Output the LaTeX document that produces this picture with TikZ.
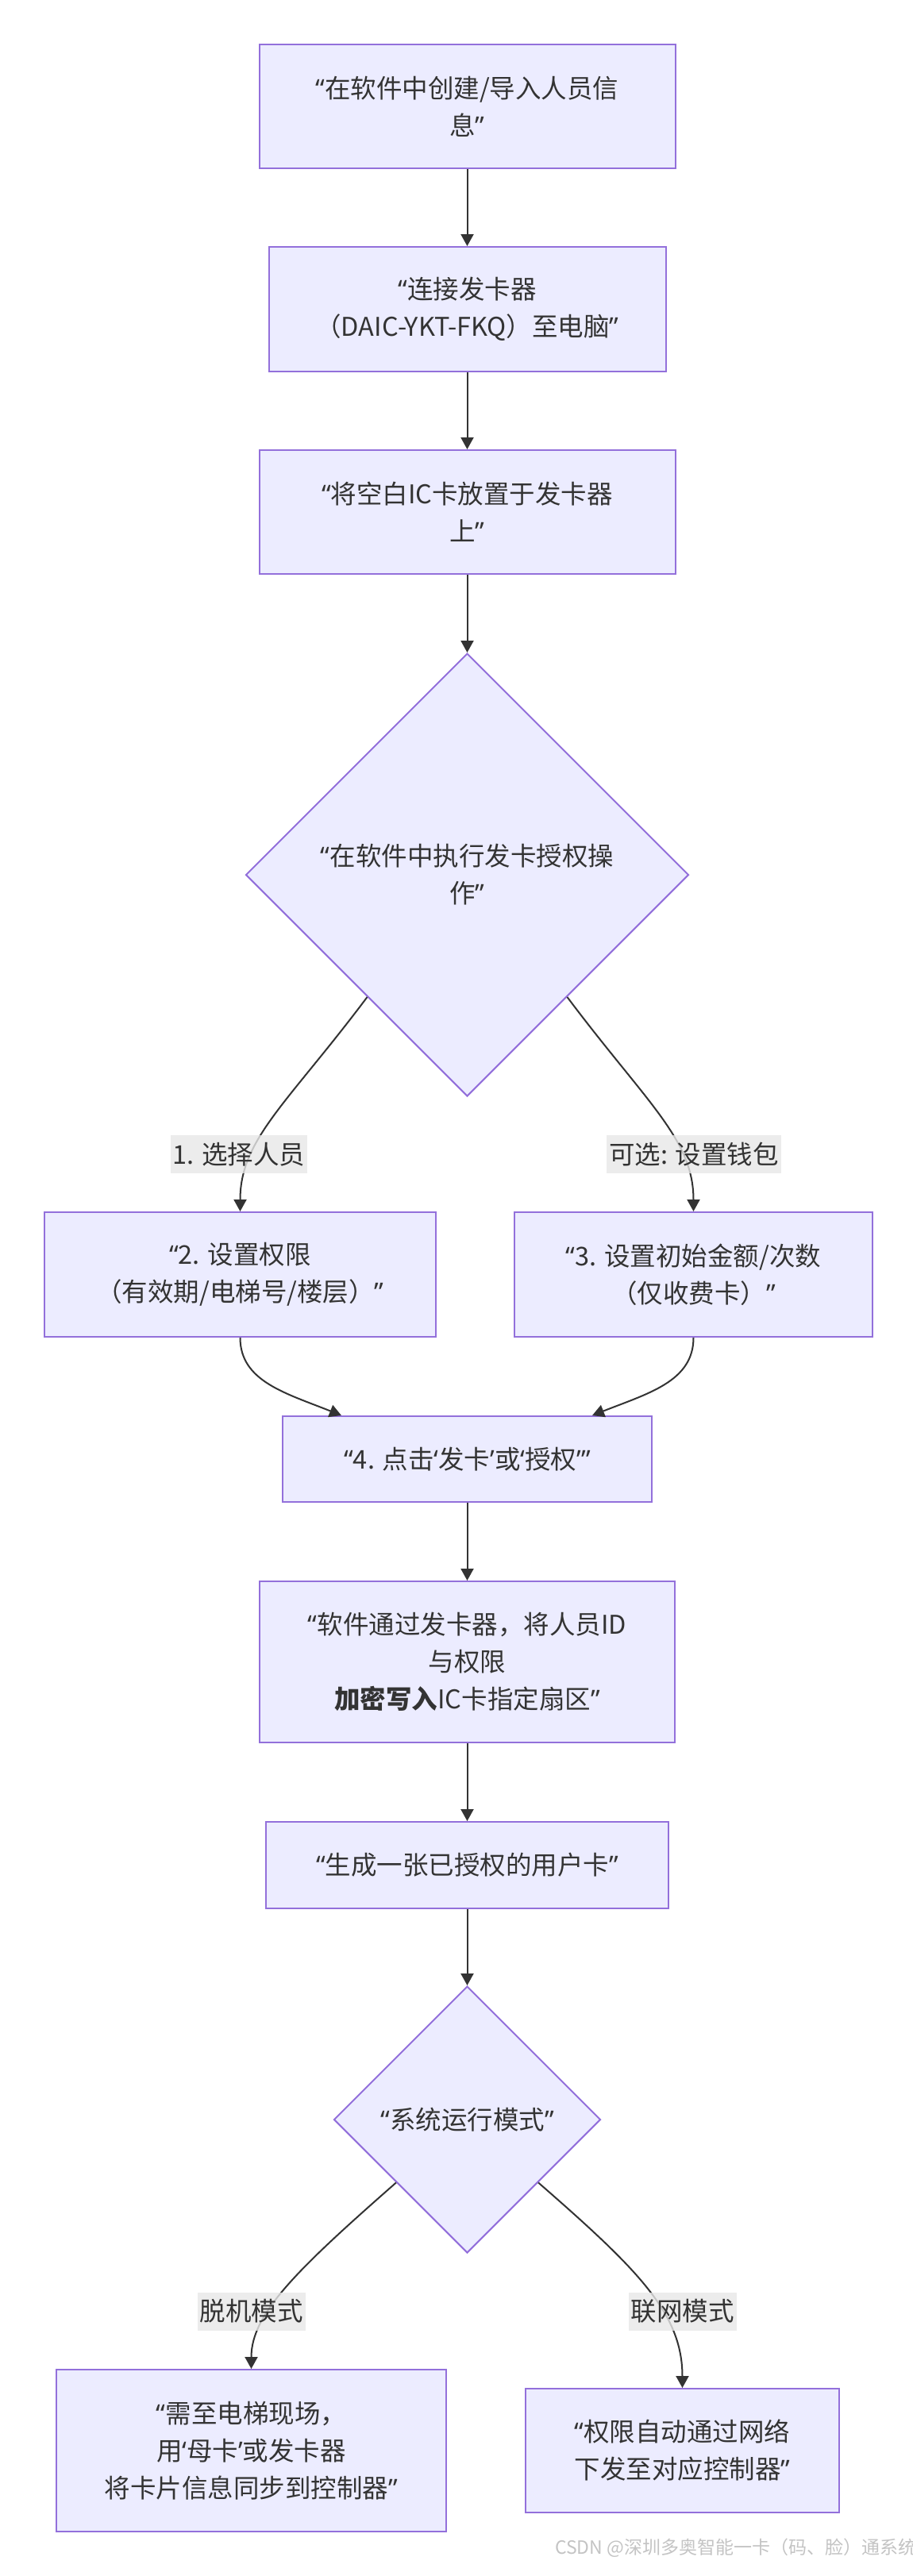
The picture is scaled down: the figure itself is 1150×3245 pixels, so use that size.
\documentclass[tikz,border=0pt]{standalone}
\usepackage{fontspec}
\setmainfont{Noto Sans CJK SC}
\newfontfamily\qf{Noto Sans}
\usetikzlibrary{arrows.meta,shapes.geometric,calc}
\definecolor{nodefill}{HTML}{ECECFF}
\definecolor{nodeline}{HTML}{9370DB}
\definecolor{txt}{HTML}{333333}
\definecolor{lblbg}{HTML}{E8E8E8}
\definecolor{wmark}{HTML}{C4C4C4}
\newcommand\dqo{{\qf “}}
\newcommand\dqc{{\qf ”}}
\newcommand\sqo{{\qf ‘}}
\newcommand\sqc{{\qf ’}}
\newcommand\nfont{\fontsize{32.5pt}{47pt}\selectfont}
\begin{document}
\begin{tikzpicture}[x=1pt,y=-1pt,
  box/.style={draw=nodeline, fill=nodefill, line width=2pt, inner sep=0pt,
    align=center, font=\nfont, text=txt},
  dia/.style={box, shape=diamond, aspect=1},
  edge/.style={draw=txt, line width=2pt, -{Triangle[length=15pt,width=16pt]}},
  lbl/.style={fill=lblbg, fill opacity=0.8, text opacity=1, text=txt, font=\nfont,
    inner xsep=3pt, inner ysep=0pt, minimum height=48pt}]
\useasboundingbox[fill=white] (0,0) rectangle (1150,3245);

\node[box, minimum width=524pt, minimum height=156pt] (b1) at (588.5,134)
  {\dqo 在软件中创建/导入人员信\\息\dqc};
\node[box, minimum width=500pt, minimum height=157pt] (b2) at (588.5,389.5)
  {\dqo 连接发卡器\\（DAIC-YKT-FKQ）至电脑\dqc};
\node[box, minimum width=524pt, minimum height=156pt] (b3) at (588.5,645)
  {\dqo 将空白IC卡放置于发卡器\\上\dqc};
\node[dia, minimum width=558pt, minimum height=558pt] (d1) at (588.5,1102)
  {\dqo 在软件中执行发卡授权操\\作\dqc};
\node[box, minimum width=493pt, minimum height=157pt] (bl) at (302.5,1605.5)
  {\dqo 2. 设置权限\\（有效期/电梯号/楼层）\dqc};
\node[box, minimum width=451pt, minimum height=157pt] (br) at (873.5,1605.5)
  {\dqo 3. 设置初始金额/次数\\（仅收费卡）\dqc};
\node[box, minimum width=465pt, minimum height=108pt] (b4) at (588.5,1838)
  {\dqo 4. 点击\sqo 发卡\sqc 或\sqo 授权\sqc\dqc};
\node[box, minimum width=523pt, minimum height=203pt] (b5) at (588.5,2093.5)
  {\dqo 软件通过发卡器，将人员ID\\与权限\\{\bfseries 加密写入}IC卡指定扇区\dqc};
\node[box, minimum width=507pt, minimum height=109pt] (b6) at (588.5,2349.5)
  {\dqo 生成一张已授权的用户卡\dqc};
\node[dia, minimum width=336pt, minimum height=336pt] (d2) at (588.5,2670)
  {\dqo 系统运行模式\dqc};
\node[box, minimum width=491pt, minimum height=204pt] (b7) at (316.5,3087)
  {\dqo 需至电梯现场，\\用\sqo 母卡\sqc 或发卡器\\将卡片信息同步到控制器\dqc};
\node[box, minimum width=395pt, minimum height=156pt] (b8) at (859.5,3087)
  {\dqo 权限自动通过网络\\下发至对应控制器\dqc};

\draw[edge] (b1.south) -- (b2.north);
\draw[edge] (b2.south) -- (b3.north);
\draw[edge] (b3.south) -- (d1.north);
\draw[edge] ($(d1.south)!0.45!(d1.west)$) .. controls (362,1390) and (302.5,1435) .. (bl.north);
\draw[edge] ($(d1.south)!0.45!(d1.east)$) .. controls (815,1390) and (873.5,1435) .. (br.north);
\draw[edge] (bl.south) .. controls (302.5,1740) and (360,1755) .. ([xshift=75pt]b4.north west);
\draw[edge] (br.south) .. controls (873.5,1740) and (817,1755) .. ([xshift=-76pt]b4.north east);
\draw[edge] (b4.south) -- (b5.north);
\draw[edge] (b5.south) -- (b6.north);
\draw[edge] (b6.south) -- (d2.north);
\draw[edge] ($(d2.south)!0.53!(d2.west)$) .. controls (373,2860) and (316.5,2915) .. (b7.north);
\draw[edge] ($(d2.south)!0.53!(d2.east)$) .. controls (805,2860) and (859.5,2915) .. (b8.north);

\node[lbl] (l1) at (301,1454) {1. 选择人员};
\node[lbl] (l2) at (874,1454) {可选: 设置钱包};
\node[lbl] (l3) at (316.5,2911.5) {脱机模式};
\node[lbl] (l4) at (859.5,2911.5) {联网模式};

\node[anchor=west, text=wmark, font=\fontsize{23pt}{26pt}\selectfont, inner sep=0pt] (wm) at (699,3210)
  {CSDN @深圳多奥智能一卡（码、脸）通系统};
\end{tikzpicture}
\end{document}
